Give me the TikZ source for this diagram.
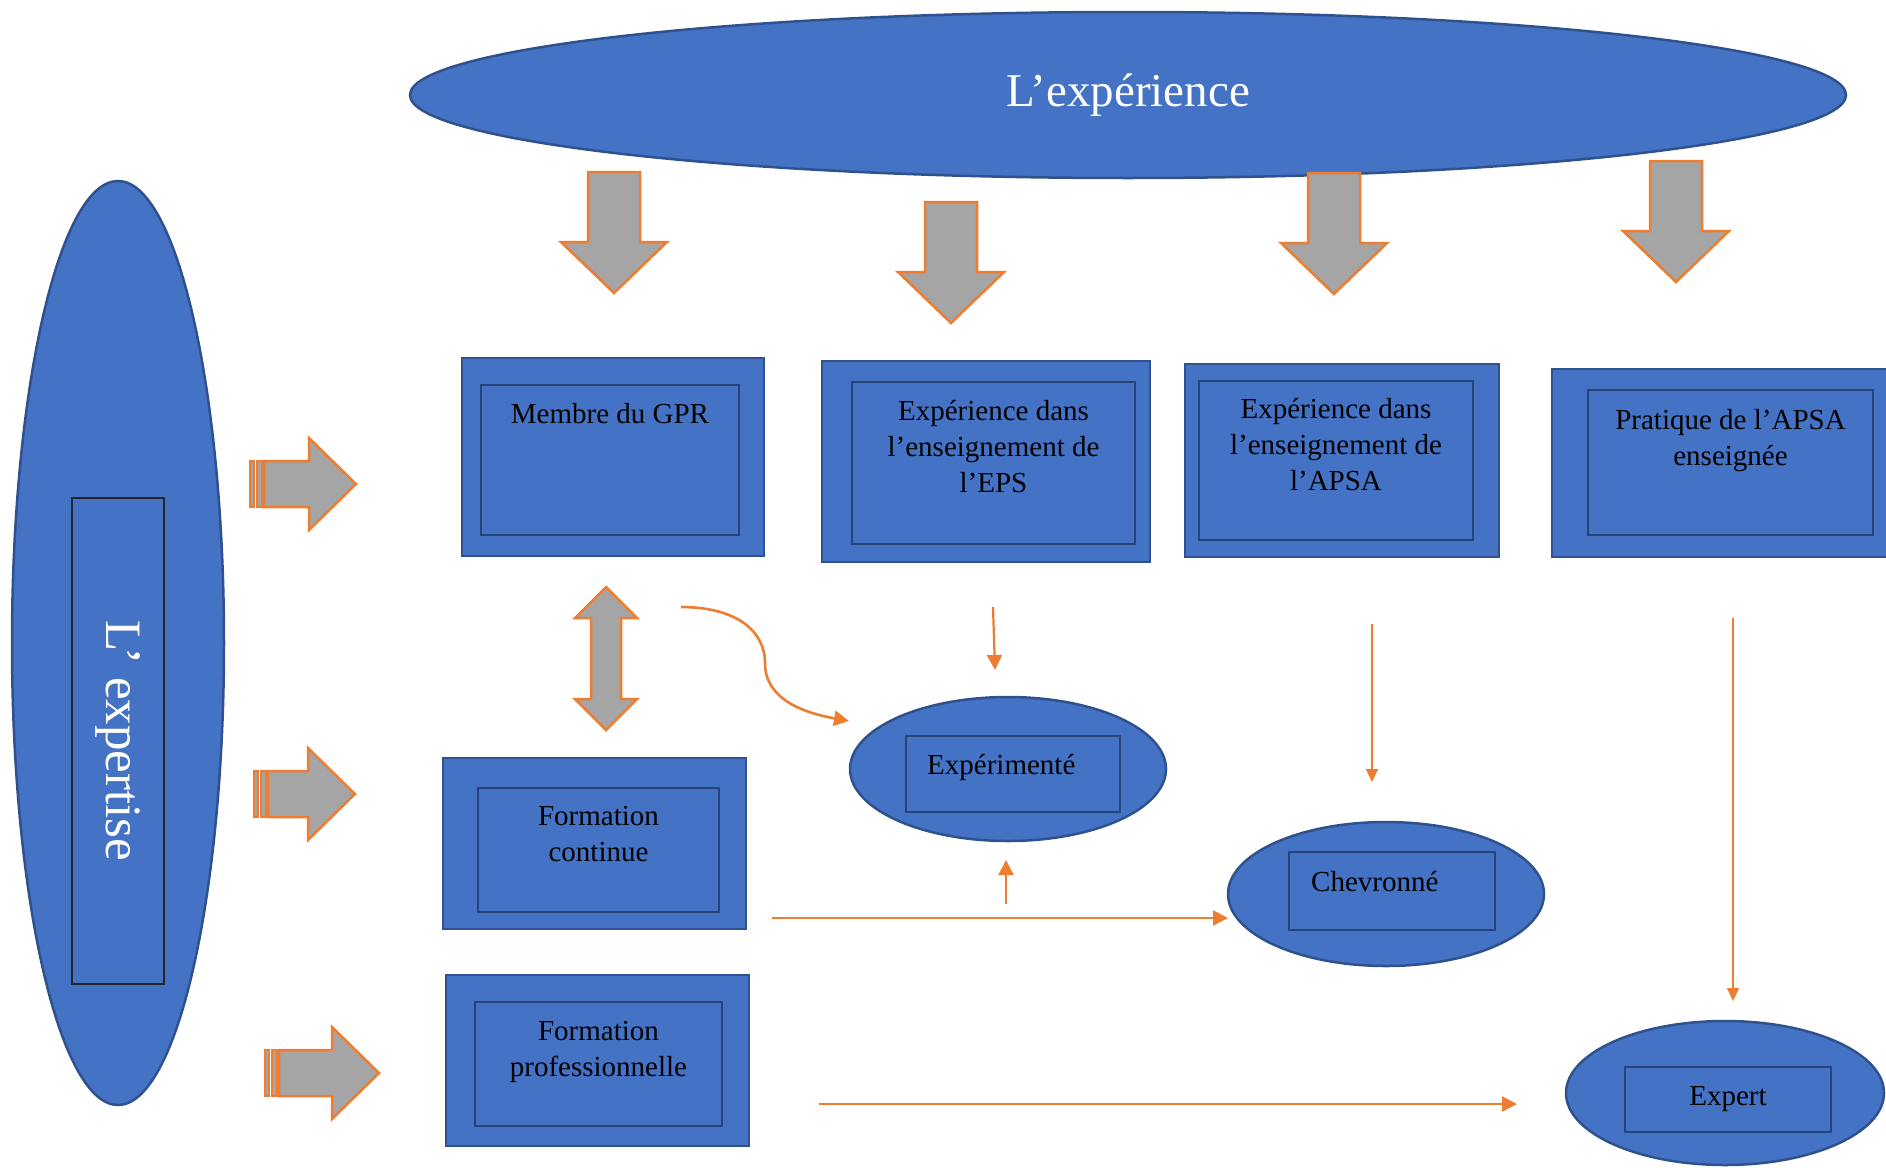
\documentclass[tikz,border=0pt]{standalone}
\usepackage{fontspec}
\setmainfont{Liberation Serif}
\usetikzlibrary{shapes,positioning,arrows.meta}

\definecolor{officeblue}{HTML}{4472C4}
\definecolor{darkblue}{HTML}{2F528F}
\definecolor{innerblue}{HTML}{264478}
\definecolor{arrowgray}{HTML}{A5A5A5}
\definecolor{arroworange}{HTML}{ED7D31}

\tikzset{
    bluebox/.style={rectangle, draw=darkblue, line width=2.5, fill=officeblue, inner sep=0, outer sep=0},
    innerbox/.style={rectangle, draw=innerblue, line width=2.5, inner sep=0, outer sep=0},
    blueellipse/.style={ellipse, draw=darkblue, line width=2.5, fill=officeblue, inner sep=0, outer sep=0},
    boxtext/.style={font=\fontsize{29}{36}\selectfont, align=center, inner sep=0},
    bigtext/.style={text=white, font=\fontsize{47}{56}\selectfont},
    blockarrow/.style={draw=arroworange, fill=arrowgray, line width=2.5},
    link/.style={draw=arroworange, line width=2.2, -{Triangle[length=15,width=15]}},
    thinlink/.style={draw=arroworange, line width=1.5, -{Triangle[length=13,width=12]}}
}

\begin{document}
\begin{tikzpicture}[x=1pt,y=-1pt]
	\useasboundingbox (0,0) rectangle (1886,1167);
	% the two big ellipses
	\node[blueellipse, bigtext, minimum width=1436, minimum height=166] (exper) at (1128,95) {L’expérience};
	\node[blueellipse, minimum width=212, minimum height=924] (expertise) at (118,643) {};
	\node[innerbox, draw=black!85, line width=1.5, bigtext, font=\fontsize{51}{60}\selectfont, rotate=-90,
		minimum width=486, minimum height=92] (expertiseIn) at (118,741) {L’ expertise};

	% boxes
	\node[bluebox, minimum width=302, minimum height=198] (gpr) at (613,457) {};
	\node[innerbox, minimum width=258, minimum height=150] (gprIn) at (610,460) {};
	\node[bluebox, minimum width=328, minimum height=201] (eps) at (986,461.5) {};
	\node[innerbox, minimum width=283, minimum height=162] (epsIn) at (993.5,463) {};
	\node[bluebox, minimum width=314, minimum height=193] (apsa) at (1342,460.5) {};
	\node[innerbox, minimum width=274, minimum height=159] (apsaIn) at (1336,460.5) {};
	\node[bluebox, minimum width=343, minimum height=188] (prat) at (1723.5,463) {};
	\node[innerbox, minimum width=285, minimum height=145] (pratIn) at (1730.5,462.5) {};
	\node[bluebox, minimum width=303, minimum height=171] (cont) at (594.5,843.5) {};
	\node[innerbox, minimum width=241, minimum height=124] (contIn) at (598.5,850) {};
	\node[bluebox, minimum width=303, minimum height=171] (prof) at (597.5,1060.5) {};
	\node[innerbox, minimum width=247, minimum height=124] (profIn) at (598.5,1064) {};

	\node[boxtext, below=18pt of gprIn.north] (gprText) {Membre du GPR};
	\node[boxtext, below=18pt of epsIn.north] (epsText) {Expérience dans\\ l’enseignement de\\ l’EPS};
	\node[boxtext, below=17pt of apsaIn.north] (apsaText) {Expérience dans\\ l’enseignement de\\ l’APSA};
	\node[boxtext, below=19pt of pratIn.north] (pratText) {Pratique de l’APSA\\ enseignée};
	\node[boxtext, below=18pt of contIn.north] (contText) {Formation\\ continue};
	\node[boxtext, below=19pt of profIn.north] (profText) {Formation\\ professionnelle};

	% levels
	\node[blueellipse, minimum width=316, minimum height=144] (expe) at (1008,769) {};
	\node[innerbox, minimum width=214, minimum height=76] (expeIn) at (1013,774) {};
	\node[boxtext, below right=18pt and 21pt of expeIn.north west] (expeText) {Expérimenté};
	\node[blueellipse, minimum width=316, minimum height=144] (chev) at (1386,894) {};
	\node[innerbox, minimum width=206, minimum height=78] (chevIn) at (1392,891) {};
	\node[boxtext, below right=19pt and 22pt of chevIn.north west] (chevText) {Chevronné};
	\node[blueellipse, minimum width=318, minimum height=144] (expert) at (1725,1093) {};
	\node[innerbox, minimum width=206, minimum height=65] (expertIn) at (1728,1099.5) {};
	\node[boxtext] (expertText) at (expertIn) {Expert};

	% block arrows
	\foreach \x/\y in {614/172, 951/202, 1334/173, 1676/161}
		\draw[blockarrow, shift={(\x,\y)}] (-26,0) -- (26,0) -- (26,70) -- (53,70) -- (0,121) -- (-53,70) -- (-26,70) -- cycle;
	\foreach \x/\y/\b in {250/484/59, 254/794/54, 265/1073/67} {
		\draw[blockarrow, shift={(\x,\y)}] (0,-23) rectangle (4,23) (7,-23) rectangle (12,23);
		\draw[blockarrow, shift={(\x,\y)}] (14,-23) -- (\b,-23) -- (\b,-46) -- (\b+47,0) -- (\b,46) -- (\b,23) -- (14,23) -- cycle;
	}
	\draw[blockarrow] (606,587) -- (637,618) -- (621,618) -- (621,699) -- (637,699) -- (606,730)
		-- (575,699) -- (591,699) -- (591,618) -- (575,618) -- cycle;

	% thin arrows
	\coordinate (gprS) at (681,607);
	\coordinate (gprE) at (849,721);
	\coordinate (epsS) at (993,607);
	\coordinate (epsE) at (995,670);
	\coordinate (apsaS) at (1372,624);
	\coordinate (apsaE) at (1372,782);
	\coordinate (pratS) at (1733,618);
	\coordinate (pratE) at (1733,1001);
	\coordinate (upS) at (1006,904);
	\coordinate (upE) at (1006,860);
	\coordinate (contS) at (772,918);
	\coordinate (contE) at (1228,918);
	\coordinate (profS) at (819,1104);
	\coordinate (profE) at (1517,1104);
	\draw[link, line width=2.6] (gprS) .. controls (735,607) and (765,630) .. (765,663)
		.. controls (765,700) and (805,713) .. (gprE);
	\draw[link] (epsS) -- (epsE);
	\draw[thinlink] (apsaS) -- (apsaE);
	\draw[thinlink] (pratS) -- (pratE);
	\draw[link] (upS) -- (upE);
	\draw[link] (contS) -- (contE);
	\draw[link] (profS) -- (profE);
\end{tikzpicture}
\end{document}
